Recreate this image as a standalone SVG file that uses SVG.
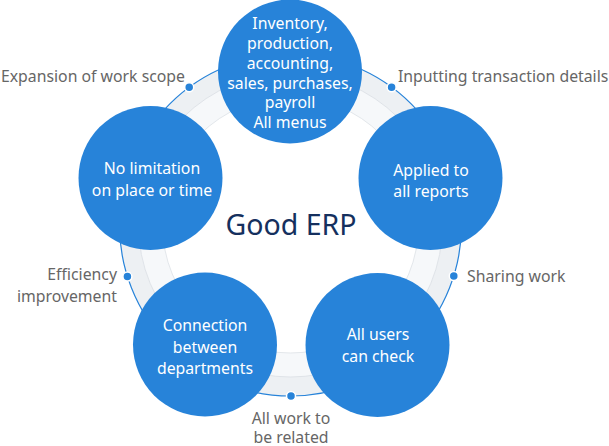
<svg xmlns="http://www.w3.org/2000/svg" width="609" height="446" viewBox="0 0 609 446">
<style>
.node circle{fill:#2783d9}
.nt{font-family:"Noto Sans","Liberation Sans",sans-serif;font-size:15.8px;fill:#fff;text-anchor:middle}
.lb{font-family:"Noto Sans","Liberation Sans",sans-serif;font-size:15.8px;fill:#666}
.dot{fill:#2783d9;stroke:#fff;stroke-width:1.5}
</style>
<rect width="609" height="446" fill="#fff"/>
<g id="connectors">
<circle cx="290.5" cy="225" r="161.5" fill="none" stroke="#edf0f3" stroke-width="19"/>
<circle cx="290.5" cy="225" r="140" fill="none" stroke="#f6f8fa" stroke-width="24"/>
<circle cx="290.5" cy="225" r="152" fill="none" stroke="#dfe3e8" stroke-width="1"/>
<circle cx="290.5" cy="225" r="128" fill="none" stroke="#e3e7eb" stroke-width="1"/>
<circle cx="290.5" cy="225" r="171" fill="none" stroke="#2783d9" stroke-width="1.2"/>
<circle class="dot" cx="189.2" cy="87.2" r="4.5"/>
<circle class="dot" cx="391.6" cy="87.2" r="4.5"/>
<circle class="dot" cx="127.4" cy="276.5" r="4.5"/>
<circle class="dot" cx="453.8" cy="276" r="4.5"/>
<circle class="dot" cx="291" cy="396" r="4.5"/>
</g>
<g id="node-top" class="node">
<circle cx="290" cy="71.5" r="72"/>
<text class="nt" x="290" y="29">Inventory,</text>
<text class="nt" x="290" y="49">production,</text>
<text class="nt" x="290" y="68.5">accounting,</text>
<text class="nt" x="290" y="88.5">sales, purchases,</text>
<text class="nt" x="290" y="108">payroll</text>
<text class="nt" x="290" y="128">All menus</text>
</g>
<g id="node-right" class="node">
<circle cx="430.5" cy="178" r="72"/>
<text class="nt" x="431" y="176">Applied to</text>
<text class="nt" x="431" y="197">all reports</text>
</g>
<g id="node-bottom-right" class="node">
<circle cx="377.5" cy="345" r="72"/>
<text class="nt" x="378" y="340">All users</text>
<text class="nt" x="378" y="362">can check</text>
</g>
<g id="node-bottom-left" class="node">
<circle cx="205" cy="344.5" r="72"/>
<text class="nt" x="205" y="331">Connection</text>
<text class="nt" x="205" y="353">between</text>
<text class="nt" x="205" y="374">departments</text>
</g>
<g id="node-left" class="node">
<circle cx="150.5" cy="178" r="72"/>
<text class="nt" x="152" y="174">No limitation</text>
<text class="nt" x="152" y="196">on place or time</text>
</g>
<g id="center">
<text x="291" y="235" font-family="Noto Sans, Liberation Sans, sans-serif" font-size="28.5" fill="#15305e" text-anchor="middle">Good ERP</text>
</g>
<g id="labels">
<text class="lb" x="185" y="82" text-anchor="end">Expansion of work scope</text>
<text class="lb" x="398" y="82">Inputting transaction details</text>
<text class="lb" x="117" y="280" text-anchor="end">Efficiency</text>
<text class="lb" x="117" y="302" text-anchor="end">improvement</text>
<text class="lb" x="467" y="282">Sharing work</text>
<text class="lb" x="291" y="424" text-anchor="middle">All work to</text>
<text class="lb" x="291" y="443" text-anchor="middle">be related</text>
</g>
</svg>
